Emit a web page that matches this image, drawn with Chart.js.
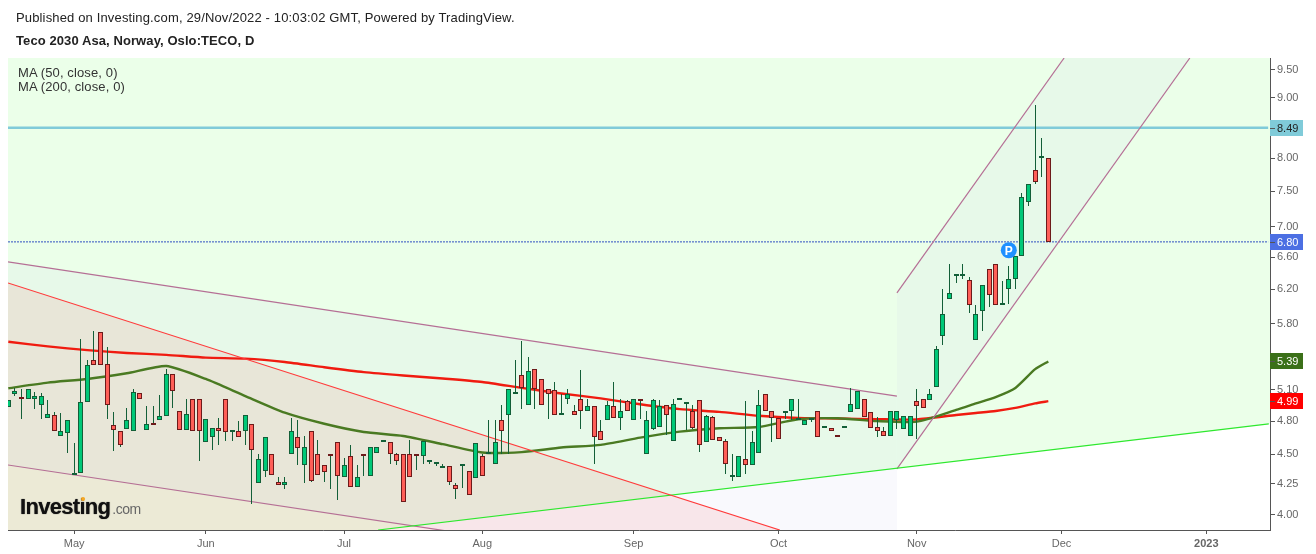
<!DOCTYPE html>
<html>
<head>
<meta charset="utf-8">
<title>Teco 2030 Asa</title>
<script src="https://cdn.jsdelivr.net/npm/chart.js@4"></script>
<style>
  body { margin: 0; background: #fff; font-family: "Liberation Sans", Arial, sans-serif; overflow: hidden; }
  #wrap { position: relative; width: 1316px; height: 554px; overflow: hidden; }
  canvas { position: absolute; left: 0; top: 0; }
  .txt { position: absolute; font-size: 13px; white-space: nowrap; color: #222; line-height: 14px; letter-spacing: 0.15px; }
  #logo { position: absolute; left: 20px; top: 494px; white-space: nowrap; color: #111; font-weight: bold; font-size: 22px; letter-spacing: -0.7px; line-height: 26px; text-shadow: 0 0 1px #333; }
  #logo span { color: #666; font-weight: normal; font-size: 14px; letter-spacing: -0.5px; margin-left: 2px; text-shadow: none; }
  #dot { position: absolute; left: 81px; top: 497px; width: 4px; height: 4px; border-radius: 2px; background: #f7a823; }
</style>
</head>
<body>
<div id="wrap">
  <canvas id="chart" width="1316" height="554"></canvas>
  <div class="txt" style="left:16px;top:11px">Published on Investing.com, 29/Nov/2022 - 10:03:02 GMT, Powered by TradingView.</div>
  <div class="txt" style="left:16px;top:34px;font-weight:bold;letter-spacing:0.09px">Teco 2030 Asa, Norway, Oslo:TECO, D</div>
  <div class="txt" style="left:18px;top:66px;color:#333;letter-spacing:0.12px">MA (50, close, 0)<br>MA (200, close, 0)</div>
  <div id="logo">Investing<span>.com</span></div>
  <div id="dot"></div>
</div>
<script>
const opens = [
  4.935,5.063,5.028,5.009,5.009,4.95,4.827,4.855,4.66,4.69,
  4.32,4.34,4.98,5.403,5.705,5.36,4.76,4.707,4.725,4.707,
  5.067,4.716,4.765,4.808,4.846,5.26,4.90,4.716,5.009,5.009,
  4.607,4.652,4.74,5.009,4.70,4.707,4.707,4.77,4.255,4.355,
  4.50,4.263,4.244,4.50,4.652,4.405,4.707,4.50,4.405,4.487,
  4.607,4.305,4.484,4.22,4.495,4.313,4.51,4.605,4.607,4.50,
  4.50,4.50,4.495,4.49,4.434,4.42,4.38,4.396,4.24,4.396,
  4.355,4.296,4.49,4.50,4.42,4.808,4.855,5.057,5.25,4.95,
  5.31,5.21,5.107,5.097,4.855,5.009,4.90,5.009,4.90,4.94,
  4.707,4.808,4.94,4.827,4.99,4.808,5.00,4.50,4.725,4.75,
  4.95,4.616,5.005,4.96,4.90,5.00,4.607,4.836,4.652,4.616,
  4.31,4.305,4.457,4.405,4.51,5.057,4.90,4.827,4.875,4.90,
  4.808,4.76,4.808,4.90,4.74,4.74,4.658,4.735,4.884,4.913,
  5.009,4.884,4.75,4.707,4.66,4.808,4.725,4.66,4.99,5.009,
  5.00,5.13,5.662,6.083,6.361,6.361,6.311,5.618,5.943,6.448,
  6.511,6.013,6.20,6.324,6.613,7.344,7.815,8.009,8.00
];
const highs = [
  5.00,5.117,5.11,5.107,5.077,5.067,5.00,4.89,4.875,4.808,
  4.60,5.63,5.403,5.72,5.705,5.54,4.89,4.707,4.92,5.107,
  5.067,4.94,4.94,5.048,5.31,5.26,4.90,5.009,5.009,5.009,
  4.818,4.74,4.827,5.009,4.70,4.80,4.855,4.77,4.50,4.652,
  4.50,4.307,4.307,4.827,4.808,4.66,4.707,4.625,4.405,4.487,
  4.607,4.466,4.58,4.405,4.495,4.563,4.563,4.605,4.607,4.51,
  4.50,4.625,4.495,4.616,4.434,4.42,4.413,4.396,4.255,4.396,
  4.355,4.60,4.50,4.808,4.808,4.95,5.107,5.403,5.61,5.435,
  5.31,5.21,5.107,5.18,5.057,5.107,4.95,5.30,5.009,4.94,
  4.808,4.99,5.18,5.009,5.00,5.009,5.00,4.90,5.009,5.00,
  4.95,5.009,5.005,4.96,4.95,5.00,4.855,4.846,4.652,4.634,
  4.50,4.49,4.99,4.707,5.097,5.057,4.90,4.827,4.875,5.009,
  5.009,4.808,4.808,4.90,4.74,4.74,4.658,4.75,5.12,5.087,
  5.009,4.884,4.836,4.75,4.90,4.90,4.846,4.846,5.107,5.009,
  5.107,5.55,6.20,6.511,6.373,6.511,6.348,6.013,6.25,6.448,
  6.511,6.30,6.486,6.613,7.474,7.606,8.868,8.318,8.00
];
const lows = [
  4.935,5.044,4.82,5.009,4.913,4.818,4.827,4.707,4.66,4.515,
  4.32,4.34,4.98,5.35,5.35,4.818,4.527,4.563,4.725,4.707,
  5.009,4.716,4.76,4.808,4.846,4.92,4.716,4.716,4.707,4.44,
  4.607,4.536,4.58,4.616,4.616,4.652,4.58,4.085,4.255,4.31,
  4.32,4.244,4.21,4.50,4.41,4.26,4.263,4.32,4.268,4.21,
  4.12,4.305,4.22,4.22,4.318,4.313,4.51,4.605,4.413,4.405,
  4.10,4.305,4.363,4.413,4.413,4.40,4.38,4.244,4.13,4.213,
  4.155,4.296,4.313,4.50,4.42,4.50,4.50,5.057,4.913,4.95,
  4.913,4.95,4.818,4.855,4.855,4.96,4.855,4.725,4.90,4.413,
  4.625,4.808,4.827,4.716,4.90,4.808,4.818,4.50,4.716,4.75,
  4.67,4.616,5.005,4.716,4.725,4.52,4.607,4.625,4.616,4.33,
  4.27,4.305,4.33,4.405,4.51,4.90,4.612,4.634,4.818,4.808,
  4.808,4.76,4.79,4.652,4.74,4.707,4.656,4.735,4.884,4.913,
  4.836,4.74,4.658,4.66,4.66,4.725,4.725,4.66,4.634,4.92,
  5.00,5.13,5.563,6.083,6.275,6.324,5.92,5.618,5.717,5.99,
  6.013,6.013,6.025,6.21,6.613,7.288,7.606,7.72,6.80
];
const closes = [
  5.00,5.087,5.009,5.107,5.038,5.038,4.865,4.707,4.707,4.808,
  4.32,4.98,5.35,5.35,5.35,4.95,4.716,4.58,4.808,5.077,
  5.009,4.77,4.76,4.846,5.26,5.087,4.716,4.865,4.707,4.707,
  4.818,4.74,4.707,4.70,4.70,4.652,4.855,4.536,4.457,4.652,
  4.32,4.244,4.263,4.707,4.554,4.563,4.27,4.32,4.347,4.485,
  4.313,4.405,4.22,4.305,4.49,4.563,4.563,4.605,4.50,4.44,
  4.10,4.305,4.49,4.616,4.434,4.42,4.38,4.263,4.205,4.396,
  4.155,4.60,4.313,4.50,4.607,4.707,5.107,5.057,5.12,5.29,
  5.107,4.95,5.057,4.855,4.855,5.057,4.855,4.90,4.94,4.652,
  4.625,4.95,4.827,4.90,4.90,5.009,4.995,4.808,5.00,4.94,
  4.855,4.96,5.005,4.96,4.74,4.58,4.846,4.625,4.616,4.42,
  4.31,4.49,4.405,4.607,4.95,4.90,4.827,4.634,4.875,5.009,
  4.808,4.808,4.808,4.652,4.74,4.707,4.656,4.75,4.96,5.087,
  4.836,4.74,4.707,4.66,4.90,4.90,4.846,4.846,4.94,4.92,
  5.057,5.52,5.909,6.155,6.361,6.386,6.013,5.909,6.25,6.13,
  6.013,6.013,6.324,6.613,7.416,7.606,7.635,8.009,6.80
];

// moving averages
const maBars = [0,6,12,18,24,30,36,42,48,54,60,66,72,78,84,90,96,102,108,114,120,126,132,138,144,147,150,153,156,158];
const ma50 = [5.117,5.173,5.21,5.268,5.343,5.21,5.04,4.88,4.776,4.70,4.664,4.59,4.516,4.52,4.56,4.584,4.649,4.703,4.734,4.746,4.818,4.827,4.80,4.795,4.906,4.968,5.03,5.12,5.31,5.39];
const ma200 = [5.60,5.55,5.51,5.48,5.46,5.43,5.42,5.385,5.33,5.28,5.245,5.215,5.18,5.12,5.065,5.017,4.96,4.913,4.887,4.85,4.83,4.825,4.818,4.816,4.858,4.877,4.896,4.925,4.968,4.99];

// x axis
const monthBars = [10,30,51,72,95,117,138,160,182];
const monthLabels = ['May','Jun','Jul','Aug','Sep','Oct','Nov','Dec','2023'];
const priceTicks = [9.5,9,8,7.5,7,6.6,6.2,5.8,5.1,4.8,4.5,4.25,4];

// trend lines drawn on the chart: [bar, price] at each end
const redLine = [[-0.05,6.278],[117.2,3.885]];
const greenLine = [[56.17,3.885],[191.5,4.774]];
const chanTop = [[-0.05,6.54],[135,5.04]];
const chanBottom = [[-0.05,4.408],[135,3.40]];
const riseTop = [[135,6.158],[160.4,9.72]];
const riseBottom = [[135,4.375],[179.5,9.72]];

const lastPrice = 6.80;
const hLevel = 8.49;
const xMin = -0.05, xMax = 191.68, yMin = 3.885, yMax = 9.72;

const candleBars = opens.map((o, i) => ({ x: i, y: [o, closes[i]] }));
const wickBars = opens.map((o, i) => ({ x: i, y: [lows[i], highs[i]] }));
const isUp = opens.map((o, i) => closes[i] >= o);
const toXY = pts => pts.map(p => ({ x: p[0], y: p[1] }));
const maPts = arr => arr.map((v, i) => ({ x: maBars[i], y: v }));

function poly(ctx, x, y, pts, color) {
  ctx.beginPath();
  pts.forEach((p, i) => {
    const px = x.getPixelForValue(p[0]), py = y.getPixelForValue(p[1]);
    if (i == 0) ctx.moveTo(px, py); else ctx.lineTo(px, py);
  });
  ctx.closePath();
  ctx.fillStyle = color;
  ctx.fill();
}

// coloured zones behind the candles
const zones = {
  id: 'zones',
  beforeDatasetsDraw(chart) {
    const { ctx, chartArea: a, scales: { x, y } } = chart;
    ctx.save();
    ctx.beginPath();
    ctx.rect(a.left, a.top, a.width, a.height);
    ctx.clip();
    poly(ctx, x, y, [[xMin,yMin],greenLine[0],[xMax,4.775],[xMax,yMax],[xMin,yMax]], '#ebffe9');
    poly(ctx, x, y, [redLine[0],redLine[1],[xMin,yMin]], 'rgba(250,93,95,0.13)');
    poly(ctx, x, y, [chanTop[0],chanTop[1],chanBottom[1],chanBottom[0]], 'rgba(195,195,235,0.1)');
    poly(ctx, x, y, [riseTop[0],riseTop[1],riseBottom[1],riseBottom[0]], 'rgba(195,195,235,0.1)');
    ctx.restore();
  }
};

// line candles up on whole pixels so they stay crisp
const snap = {
  id: 'snap',
  afterDatasetsUpdate(chart) {
    [0, 1].forEach(n => {
      chart.getDatasetMeta(n).data.forEach(el => {
        el.x = Math.floor(el.x) + 0.5;
        el.y = Math.round(el.y);
        el.base = Math.round(el.base);
      });
    });
  }
};

// price badges on the right axis and the P marker
const badges = {
  id: 'badges',
  afterDraw(chart) {
    const { ctx, chartArea: a, scales: { x, y } } = chart;
    const list = [
      [hLevel, '#80cbd9', '#222'],
      [lastPrice, '#4c6fe3', '#fff'],
      [ma50[ma50.length - 1], '#3b7019', '#fff'],
      [ma200[ma200.length - 1], '#ff0000', '#fff']
    ];
    ctx.save();
    ctx.font = '11px "Liberation Sans", Arial, sans-serif';
    ctx.textBaseline = 'middle';
    list.forEach(b => {
      const py = Math.round(y.getPixelForValue(b[0]));
      ctx.fillStyle = b[1];
      ctx.fillRect(a.right, py - 8, 33, 16);
      ctx.fillStyle = '#555';
      ctx.fillRect(a.right, py, 5, 1);
      ctx.fillStyle = b[2];
      ctx.textAlign = 'left';
      ctx.fillText(b[0].toFixed(2), a.right + 7, py + 1);
    });
    const px = x.getPixelForValue(152), py = y.getPixelForValue(6.69);
    ctx.beginPath();
    ctx.arc(px, py, 8, 0, Math.PI * 2);
    ctx.fillStyle = '#1e90ff';
    ctx.fill();
    ctx.fillStyle = '#fff';
    ctx.font = 'bold 12px "Liberation Sans", Arial, sans-serif';
    ctx.textAlign = 'center';
    ctx.fillText('P', px, py + 1);
    ctx.restore();
  }
};

function trendSet(pts, color, width, order) {
  return { type: 'line', data: toXY(pts), borderColor: color, borderWidth: width, pointRadius: 0, order: order };
}

new Chart(document.getElementById('chart'), {
  type: 'bar',
  data: {
    datasets: [
      {
        data: candleBars,
        backgroundColor: isUp.map(u => u ? '#00c878' : '#ff5f58'),
        borderColor: isUp.map(u => u ? '#135f38' : '#6d1a1a'),
        borderWidth: 1,
        borderSkipped: false,
        inflateAmount: 0,
        barThickness: 5,
        minBarLength: 2,
        grouped: false,
        order: 1
      },
      {
        data: wickBars,
        backgroundColor: '#135f38',
        borderWidth: 0,
        inflateAmount: 0,
        barThickness: 1,
        grouped: false,
        order: 2
      },
      trendSet(redLine, '#ff3b3b', 1.2, 3),
      trendSet(greenLine, '#2ee82e', 1.2, 3),
      trendSet(chanTop, '#b56f95', 1.2, 3),
      trendSet(chanBottom, '#b56f95', 1.2, 3),
      trendSet(riseTop, '#b56f95', 1.2, 3),
      trendSet(riseBottom, '#b56f95', 1.2, 3),
      { type: 'line', data: maPts(ma50), borderColor: '#4a7a22', borderWidth: 2.4, pointRadius: 0, tension: 0.2, order: 4 },
      { type: 'line', data: maPts(ma200), borderColor: '#f01b10', borderWidth: 2.4, pointRadius: 0, tension: 0.2, order: 5 },
      trendSet([[xMin, hLevel],[191.4, hLevel]], '#80cbd9', 2.5, 6),
      { type: 'line', data: toXY([[xMin, lastPrice],[191.4, lastPrice]]), borderColor: '#2f4fc0', borderWidth: 1, borderDash: [2, 1], pointRadius: 0, order: 6 }
    ]
  },
  options: {
    responsive: false,
    animation: false,
    events: [],
    layout: { padding: { left: 8, top: 58, right: 0, bottom: 0 } },
    plugins: { legend: { display: false }, title: { display: false }, tooltip: { enabled: false } },
    scales: {
      x: {
        type: 'linear',
        min: xMin,
        max: xMax,
        offset: false,
        grid: { offset: false, drawOnChartArea: false, drawTicks: true, tickLength: 4, color: '#555' },
        border: { display: true, color: '#555', width: 1 },
        afterFit(s) { s.height = 24; },
        afterBuildTicks(s) { s.ticks = monthBars.map(v => ({ value: v })); },
        ticks: {
          autoSkip: false,
          maxRotation: 0,
          padding: 3,
          color: '#666',
          font: ctx => ({ family: '"Liberation Sans", Arial, sans-serif', size: 11, weight: ctx.tick && ctx.tick.value == 182 ? 'bold' : 'normal' }),
          callback: v => monthLabels[monthBars.indexOf(v)]
        }
      },
      y: {
        type: 'logarithmic',
        position: 'right',
        min: yMin,
        max: yMax,
        grid: { drawOnChartArea: false, drawTicks: true, tickLength: 5, color: '#555' },
        border: { display: true, color: '#555', width: 1 },
        afterFit(s) { s.width = 46; },
        afterBuildTicks(s) { s.ticks = priceTicks.map(v => ({ value: v })); },
        ticks: {
          autoSkip: false,
          padding: 2,
          color: '#666',
          font: { family: '"Liberation Sans", Arial, sans-serif', size: 11 },
          callback: v => Number(v).toFixed(2)
        }
      }
    }
  },
  plugins: [zones, snap, badges]
});
</script>
</body>
</html>
